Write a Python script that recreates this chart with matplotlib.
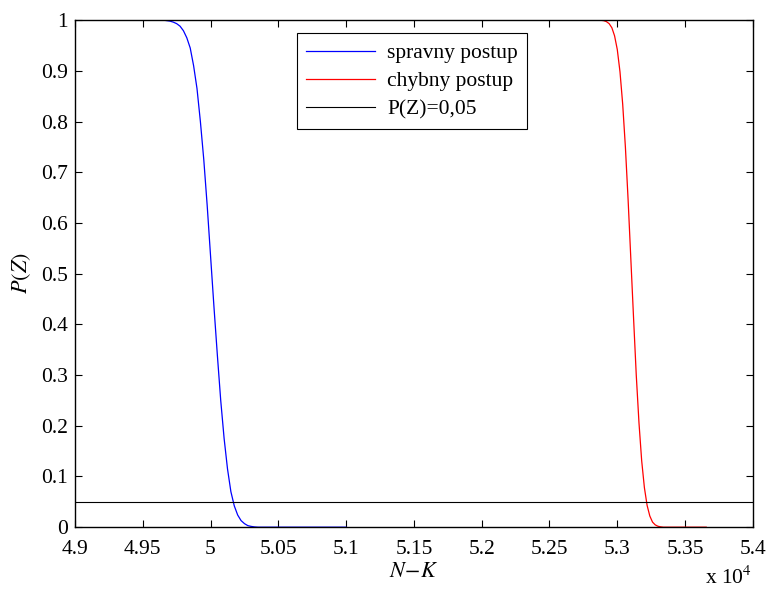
import numpy as np
import matplotlib
matplotlib.use('Agg')
import matplotlib.pyplot as plt
from matplotlib.ticker import FuncFormatter

plt.rcParams['font.family'] = 'Liberation Serif'
plt.rcParams['mathtext.fontset'] = 'stix'

# spravny postup (blue)
nk_ok = [49000, 49650, 49675, 49700, 49725, 49750, 49775, 49800, 49825, 49850,
         49875, 49900, 49925, 49950, 49975, 50000, 50025, 50050, 50075, 50100,
         50125, 50150, 50175, 50200, 50225, 50250, 50275, 50300, 50325, 50350, 51000]
p_ok = [1.0, 1.0, 0.999, 0.998, 0.996, 0.993, 0.988, 0.979, 0.965, 0.945,
        0.91, 0.865, 0.80, 0.725, 0.635, 0.535, 0.435, 0.34, 0.25, 0.175,
        0.115, 0.07, 0.042, 0.024, 0.013, 0.007, 0.003, 0.0015, 0.0005, 0.0, 0.0]

# chybny postup (red)
nk_bad = [52550, 52870, 52900, 52920, 52940, 52960, 52980, 53000, 53020,
          53040, 53060, 53080, 53100, 53120, 53140, 53160, 53180, 53200, 53220,
          53240, 53260, 53280, 53300, 53320, 53340, 53656]
p_bad = [1.0, 1.0, 0.9989, 0.997, 0.993, 0.985, 0.969, 0.942, 0.898,
         0.834, 0.749, 0.645, 0.529, 0.413, 0.30, 0.206, 0.131, 0.078, 0.043,
         0.022, 0.010, 0.0045, 0.0018, 0.0007, 0.0, 0.0]

threshold = 0.05
xlim = (49000, 54000)
xticks = np.arange(49000, 54001, 500)
yticks = np.arange(0, 1.01, 0.1)

fig = plt.figure(figsize=(7.69, 5.91), dpi=100)
ax = fig.add_axes([0.0975, 0.108, 0.8815, 0.858])

ax.plot(nk_ok, p_ok, color='blue', lw=0.9, label='spravny postup')
ax.plot(nk_bad, p_bad, color='red', lw=0.9, label='chybny postup')
ax.axhline(threshold, color='black', lw=0.8, label='P(Z)=0,05')

ax.set_xlim(xlim)
ax.set_ylim(0, 1)
ax.set_xticks(xticks)
ax.set_yticks(yticks)
ax.xaxis.set_major_formatter(FuncFormatter(lambda v, p: '%g' % round(v / 1e4, 3)))
ax.yaxis.set_major_formatter(FuncFormatter(lambda v, p: '%g' % round(v, 2)))
ax.tick_params(direction='in', top=True, right=True, length=5, width=0.8,
               labelsize=15.5)
ax.tick_params(axis='x', pad=9)
ax.tick_params(axis='y', pad=5)
for s in ax.spines.values():
    s.set_linewidth(1.0)

ax.set_xlabel('$N\\!-\\!K$', fontsize=16, labelpad=3)
ax.set_ylabel('$P(Z)$', fontsize=16, labelpad=6)
fig.text(0.978, 0.012, 'x 10$^4$', fontsize=15.5, ha='right', va='baseline')

leg = ax.legend(loc='upper left', bbox_to_anchor=(0.327, 0.974), fontsize=15.5,
                fancybox=False, edgecolor='black', framealpha=1,
                handlelength=3.2, borderpad=0.45, labelspacing=0.38,
                handletextpad=0.55, borderaxespad=0)
leg.get_frame().set_linewidth(0.8)

fig.savefig('out.png', dpi=100)
